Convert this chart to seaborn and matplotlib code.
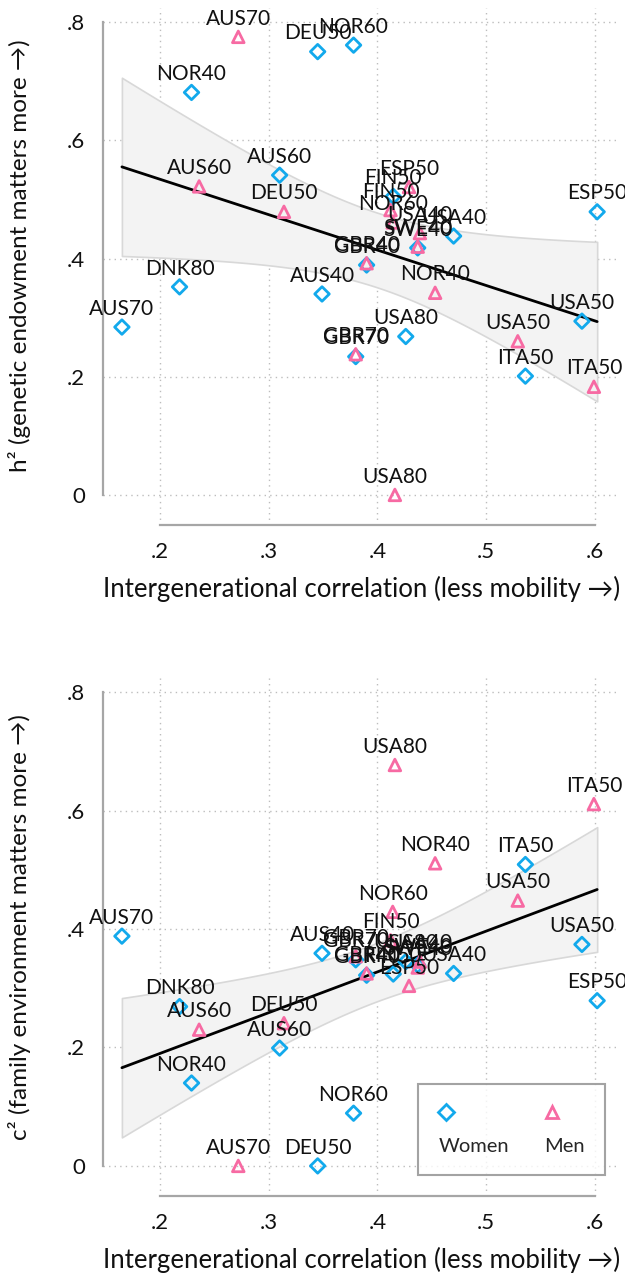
import numpy as np
import pandas as pd
import matplotlib
matplotlib.use('Agg')
import matplotlib.pyplot as plt
from matplotlib.lines import Line2D
import seaborn as sns

# data
women_labels = ['AUS70', 'NOR40', 'DNK80', 'AUS60', 'AUS40', 'DEU50', 'NOR60', 'GBR40',
                'GBR70', 'USA80', 'FIN50', 'SWE40', 'USA40', 'ESP50', 'USA50', 'ITA50']
women_x = [0.165, 0.229, 0.218, 0.310, 0.349, 0.345, 0.378, 0.390,
           0.380, 0.426, 0.4145, 0.437, 0.470, 0.602, 0.588, 0.536]
women_h2 = [0.284, 0.681, 0.352, 0.541, 0.340, 0.750, 0.761, 0.389,
            0.234, 0.268, 0.505, 0.418, 0.438, 0.479, 0.294, 0.201]
women_c2 = [0.388, 0.140, 0.269, 0.199, 0.359, 0.000, 0.089, 0.322,
            0.348, 0.345, 0.324, 0.339, 0.325, 0.279, 0.374, 0.509]

men_labels = ['AUS70', 'AUS60', 'DEU50', 'ESP50', 'FIN50', 'NOR60', 'USA40', 'SWE40',
              'GBR40', 'NOR40', 'GBR70', 'USA80', 'USA50', 'ITA50']
men_x = [0.272, 0.236, 0.314, 0.429, 0.412, 0.414, 0.439, 0.437,
         0.390, 0.453, 0.380, 0.416, 0.529, 0.599]
men_h2 = [0.775, 0.522, 0.479, 0.521, 0.482, 0.461, 0.443, 0.420,
          0.392, 0.342, 0.238, 0.000, 0.260, 0.183]
men_c2 = [0.000, 0.230, 0.241, 0.304, 0.381, 0.429, 0.345, 0.335,
          0.325, 0.511, 0.354, 0.677, 0.448, 0.611]

women = pd.DataFrame({'label': women_labels, 'x': women_x, 'h2': women_h2, 'c2': women_c2})
men = pd.DataFrame({'label': men_labels, 'x': men_x, 'h2': men_h2, 'c2': men_c2})
both = pd.concat([women, men], ignore_index=True)

sns.set_style('white')
plt.rcParams['font.family'] = ['Lato', 'DejaVu Sans']

cyan = '#12a9ec'
pink = '#f76aa3'
spine_grey = '#a6a6a6'
ink = '#111111'


def fit_band(x, y, t=2.048):
    # linear fit with 95% CI of the mean prediction (like Stata lfitci)
    x = np.asarray(x)
    y = np.asarray(y)
    b, a = np.polyfit(x, y, 1)
    resid = y - (a + b * x)
    s = np.sqrt((resid ** 2).sum() / (len(x) - 2))
    grid = np.linspace(x.min(), x.max(), 100)
    se = s * np.sqrt(1 / len(x) + (grid - x.mean()) ** 2 / ((x - x.mean()) ** 2).sum())
    fit = a + b * grid
    return grid, fit - t * se, fit + t * se


fig = plt.figure(figsize=(6.25, 12.76), dpi=100)
ax1 = fig.add_axes([0.1648, 0.5886, 0.8272, 0.4052])
ax2 = fig.add_axes([0.1648, 0.0627, 0.8272, 0.406])

panels = [(ax1, 'h2', 'h\u00b2 (genetic endowment matters more \u2192)'),
          (ax2, 'c2', 'c\u00b2 (family environment matters more \u2192)')]

for ax, col, ylab in panels:
    gx, lo, hi = fit_band(both['x'], both[col])
    ax.fill_between(gx, lo, hi, facecolor='#f3f3f3', edgecolor='#d8d8d8', lw=1.2, zorder=1)
    sns.regplot(data=both, x='x', y=col, scatter=False, ci=None, ax=ax,
                color='black', line_kws=dict(lw=2, zorder=3))

    sns.scatterplot(data=women, x='x', y=col, marker='D', s=55, facecolor='none',
                    edgecolor=cyan, linewidth=2, ax=ax, zorder=4)
    sns.scatterplot(data=men, x='x', y=col, marker='^', s=70, facecolor='none',
                    edgecolor=pink, linewidth=2, ax=ax, zorder=5)

    for df in (women, men):
        for lab, xv, yv in zip(df['label'], df['x'], df[col]):
            ax.annotate(lab, (xv, yv), xytext=(0, 6), textcoords='offset points',
                        ha='center', va='bottom', fontsize=15, color=ink, zorder=6)

    ax.set_xlim(0.1476, 0.623)
    ax.set_ylim(-0.0508, 0.824)
    ax.set_xticks([0.2, 0.3, 0.4, 0.5, 0.6])
    ax.set_xticklabels(['.2', '.3', '.4', '.5', '.6'])
    ax.set_yticks([0, 0.2, 0.4, 0.6, 0.8])
    ax.set_yticklabels(['0', '.2', '.4', '.6', '.8'])
    ax.grid(True, linestyle=(0, (1, 3)), color='#bdbdbd', lw=1)
    ax.set_axisbelow(True)
    sns.despine(ax=ax, trim=True)
    for s in ('left', 'bottom'):
        ax.spines[s].set_color(spine_grey)
        ax.spines[s].set_linewidth(1.6)
    ax.tick_params(axis='both', direction='out', length=7, width=1.6, color=spine_grey,
                   labelsize=16, labelcolor=ink, pad=6)
    ax.tick_params(axis='x', length=9, pad=3)
    ax.set_xlabel('Intergenerational correlation (less mobility \u2192)', fontsize=18.5,
                  color=ink, labelpad=10)
    ax.set_ylabel(ylab, fontsize=17.5, color=ink)
    ax.yaxis.set_label_coords(-0.14, 0.52)

handles = [Line2D([], [], marker='D', ls='none', mfc='none', mec=cyan, mew=2, ms=8),
           Line2D([], [], ls='none'),
           Line2D([], [], marker='^', ls='none', mfc='none', mec=pink, mew=2, ms=9),
           Line2D([], [], ls='none')]
leg = ax2.legend(handles, ['', 'Women', '', 'Men'], ncol=2, loc='lower right',
                 bbox_to_anchor=(0.971, 0.0405), borderaxespad=0, frameon=True,
                 fancybox=False, fontsize=14.5, handlelength=0.8, handletextpad=-0.8,
                 columnspacing=1.75, borderpad=1.0, labelspacing=0.8)
leg.get_frame().set_edgecolor('#8c8c8c')
leg.get_frame().set_linewidth(1.5)

fig.savefig('out.png', dpi=100)
